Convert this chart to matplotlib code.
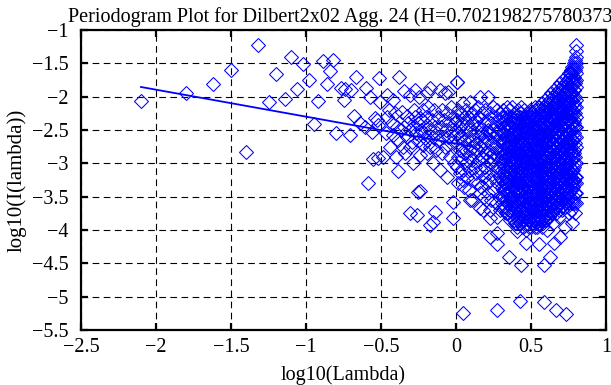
import numpy as np
import matplotlib
matplotlib.use("Agg")
import matplotlib.pyplot as plt

# ---- data: low-frequency periodogram points ----
low_x = [-2.10, -1.80, -1.62, -1.50, -1.40, -1.32, -1.25, -1.20, -1.14, -1.10,
         -1.06, -1.02, -0.98, -0.95, -0.92, -0.89, -0.86, -0.84, -0.82, -0.80,
         -0.77, -0.75, -0.74, -0.71, -0.70, -0.68, -0.67, -0.64, -0.61, -0.60,
         -0.59, -0.575, -0.558, -0.555, -0.54, -0.53, -0.517, -0.518, -0.511, -0.51,
         -0.49, -0.47, -0.462, -0.462, -0.45, -0.44, -0.429, -0.417, -0.417, -0.41,
         -0.40, -0.395, -0.39, -0.384, -0.377, -0.37, -0.362, -0.355, -0.35, -0.346,
         -0.34, -0.33, -0.329, -0.32, -0.31, -0.306, -0.306, -0.306, -0.295, -0.289,
         -0.285, -0.28, -0.273, -0.273, -0.265, -0.262, -0.255, -0.255, -0.25, -0.244,
         -0.24, -0.24, -0.24, -0.23, -0.225, -0.218, -0.218, -0.21, -0.206]
low_y = [-2.06, -1.94, -1.81, -1.60, -2.83, -1.23, -2.085, -1.665, -2.04, -1.40,
         -1.885, -1.51, -1.75, -2.41, -2.06, -1.46, -1.81, -1.61, -1.45, -2.55,
         -1.87, -2.05, -1.885, -2.575, -1.90, -2.285, -1.71, -2.40, -2.45, -1.87,
         -3.30, -2.00, -2.525, -2.94, -2.325, -2.35, -2.425, -2.925, -1.725, -2.075,
         -2.91, -2.55, -1.975, -2.30, -2.20, -2.75, -2.40, -2.05, -2.575, -2.25,
         -2.91, -2.45, -2.65, -3.11, -1.71, -2.50, -2.235, -2.75, -2.45, -1.915,
         -2.85, -2.60, -2.285, -2.40, -2.50, -1.975, -2.75, -3.74, -2.675, -2.99,
         -2.45, -2.20, -1.90, -2.30, -2.55, -3.775, -3.425, -2.40, -2.65, -2.00,
         -2.325, -2.87, -3.42, -2.50, -2.35, -2.20, -2.72, -2.55, -2.625]

# ---- data: middle band points (x, y pairs) ----
mid_x = [-0.20, -0.195, -0.195, -0.195, -0.19, -0.185, -0.175, -0.173, -0.173, -0.17,
         -0.16, -0.155, -0.151, -0.151, -0.145, -0.14, -0.14, -0.13, -0.125, -0.12,
         -0.11, -0.107, -0.107, -0.10, -0.095, -0.09, -0.085, -0.08, -0.073, -0.07,
         -0.065, -0.062, -0.06, -0.051, -0.05, -0.045, -0.04, -0.035, -0.03, -0.025,
         -0.022, -0.02, -0.018, -0.015, -0.01, -0.005, 0.004, 0.009, 0.049, 0.049,
         0.049, 0.093, 0.093, 0.104, 0.16, 0.16, 0.16, 0.182, 0.216, 0.226,
         0.226, 0.227, 0.271, 0.271, 0.271, 0.275, 0.338]
mid_y = [-2.30, -1.95, -2.425, -2.85, -2.65, -2.15, -2.50, -3.925, -1.875, -2.75,
         -2.35, -2.60, -3.00, -3.874, -2.20, -2.45, -3.724, -2.80, -2.55, -2.30,
         -2.65, -3.10, -1.90, -2.45, -2.85, -2.20, -2.60, -2.35, -1.95, -2.75,
         -2.50, -3.20, -2.25, -1.925, -2.60, -2.40, -2.90, -2.15, -2.70, -2.50,
         -3.824, -2.30, -3.574, -3.00, -2.60, -2.40, -1.785, -1.775, -2.10, -3.249,
         -5.25, -2.075, -3.549, -3.549, -2.00, -3.674, -3.449, -3.699, -2.00, -3.699,
         -4.099, -3.824, -3.799, -4.049, -5.20, -4.209, -2.15]

# ---- data: dense high-frequency band, one y-list per x column ----
dense_x = [0.005, 0.015, 0.025, 0.035, 0.045, 0.055, 0.065, 0.075, 0.085, 0.095,
           0.105, 0.115, 0.125, 0.135, 0.145, 0.155, 0.165, 0.175, 0.185, 0.195,
           0.205, 0.215, 0.225, 0.235, 0.245, 0.255, 0.265, 0.275, 0.285, 0.295,
           0.305, 0.315, 0.325, 0.335, 0.345, 0.355, 0.365, 0.375, 0.385, 0.395,
           0.405, 0.415, 0.425, 0.435, 0.445, 0.455, 0.465, 0.475, 0.485, 0.495,
           0.505, 0.515, 0.525, 0.535, 0.545, 0.555, 0.565, 0.575, 0.585, 0.595,
           0.605, 0.615, 0.625, 0.635, 0.645, 0.655, 0.665, 0.675, 0.685, 0.695,
           0.705, 0.715, 0.725, 0.735, 0.745, 0.755, 0.765, 0.775, 0.785, 0.795,
           0.800]
dense_y = [
    [-2.35, -2.7, -3.05], [-2.2, -2.55, -2.9, -3.3], [-2.45, -2.8, -3.15],
    [-2.25, -2.6, -2.95], [-2.4, -2.75, -3.1], [-2.3, -2.65, -2.85, -3.35],
    [-2.2, -2.5, -3.0], [-2.4, -2.7, -3.2], [-2.3, -2.6, -2.9, -3.4],
    [-2.5, -2.8, -3.1], [-2.25, -2.65, -2.95], [-2.4, -2.75, -3.25],
    [-2.2, -2.55, -2.85, -3.05], [-2.35, -2.7, -3.15], [-2.15, -2.45, -2.8, -3.3],
    [-2.3, -2.6, -2.95], [-2.5, -2.75, -3.1, -3.35], [-2.25, -2.55, -2.9],
    [-2.4, -2.7, -3.2, -3.5], [-2.2, -2.6, -2.85, -3.05],
    [-2.35, -2.65, -2.95, -3.3], [-2.5, -2.8, -3.15, -3.45],
    [-2.25, -2.55, -2.9, -3.25], [-2.4, -2.7, -3.0, -3.55],
    [-2.15, -2.5, -2.85, -3.2], [-2.3, -2.6, -2.95, -3.4],
    [-2.45, -2.75, -3.1, -3.6], [-2.2, -2.55, -2.9, -3.3],
    [-2.35, -2.65, -3.05, -3.5], [-2.25, -2.5, -2.8, -3.2, -3.7],
    [-2.3, -2.55, -2.8, -3.0, -3.25, -3.5],
    [-2.2, -2.45, -2.7, -2.95, -3.15, -3.4, -3.65],
    [-2.35, -2.6, -2.85, -3.1, -3.3, -3.55],
    [-2.25, -2.5, -2.75, -2.9, -3.2, -3.45, -3.75],
    [-2.4, -2.65, -2.8, -3.05, -3.35, -3.6],
    [-2.2, -2.45, -2.7, -2.95, -3.15, -3.4, -3.7, -4.4],
    [-2.3, -2.55, -2.8, -3.0, -3.25, -3.5, -3.8],
    [-2.15, -2.4, -2.65, -2.9, -3.1, -3.35, -3.6],
    [-2.35, -2.6, -2.75, -3.0, -3.2, -3.45, -3.7],
    [-2.25, -2.5, -2.7, -2.95, -3.15, -3.4, -3.65, -3.9],
    [-2.4, -2.6, -2.85, -3.05, -3.3, -3.55, -3.8, -4.02],
    [-2.2, -2.45, -2.65, -2.9, -3.1, -3.35, -3.6, -3.85],
    [-2.3, -2.55, -2.75, -3.0, -3.2, -3.45, -3.7, -5.07],
    [-2.15, -2.4, -2.6, -2.85, -3.05, -3.3, -3.55, -3.8, -4.52],
    [-2.35, -2.55, -2.8, -3.0, -3.25, -3.5, -3.75, -3.95],
    [-2.2, -2.45, -2.7, -2.9, -3.15, -3.4, -3.65, -3.85],
    [-2.3, -2.5, -2.75, -2.95, -3.2, -3.45, -3.7, -4.2],
    [-2.25, -2.45, -2.65, -2.9, -3.1, -3.35, -3.6, -3.9],
    [-2.35, -2.55, -2.8, -3.0, -3.25, -3.5, -3.75, -3.95],
    [-2.2, -2.4, -2.6, -2.85, -3.05, -3.3, -3.55, -3.8],
    [-2.3, -2.5, -2.7, -2.95, -3.15, -3.4, -3.65, -3.9],
    [-2.25, -2.45, -2.65, -2.9, -3.1, -3.35, -3.6, -3.85],
    [-2.15, -2.4, -2.6, -2.8, -3.05, -3.25, -3.5, -3.75, -3.95],
    [-2.3, -2.5, -2.75, -2.95, -3.2, -3.45, -3.7, -3.9],
    [-2.2, -2.45, -2.65, -2.85, -3.1, -3.3, -3.55, -3.8],
    [-2.15, -2.35, -2.6, -2.8, -3.0, -3.25, -3.5, -3.7, -3.9, -4.21],
    [-2.25, -2.45, -2.7, -2.9, -3.15, -3.35, -3.6, -3.85],
    [-2.1, -2.3, -2.55, -2.75, -2.95, -3.2, -3.45, -3.65, -3.95],
    [-2.2, -2.4, -2.65, -2.85, -3.1, -3.3, -3.55, -3.8, -4.52, -5.08],
    [-2.05, -2.3, -2.5, -2.7, -2.95, -3.15, -3.4, -3.6, -3.85],
    [-2.15, -2.35, -2.6, -2.8, -3.05, -3.25, -3.5, -3.75, -4.0],
    [-2.0, -2.25, -2.45, -2.7, -2.9, -3.1, -3.35, -3.55, -3.8],
    [-2.1, -2.3, -2.55, -2.75, -3.0, -3.2, -3.45, -3.65, -4.4],
    [-1.95, -2.2, -2.4, -2.65, -2.85, -3.05, -3.3, -3.5, -3.75],
    [-2.05, -2.3, -2.5, -2.7, -2.95, -3.15, -3.4, -3.6, -3.9],
    [-1.9, -2.15, -2.35, -2.6, -2.8, -3.0, -3.25, -3.45, -3.7, -4.2],
    [-2.0, -2.25, -2.45, -2.65, -2.9, -3.1, -3.35, -3.55, -5.2],
    [-1.85, -2.1, -2.3, -2.55, -2.75, -2.95, -3.2, -3.4, -3.65],
    [-1.95, -2.2, -2.4, -2.6, -2.85, -3.05, -3.3, -3.5, -3.8],
    [-1.8, -2.05, -2.25, -2.5, -2.7, -2.9, -3.15, -3.35, -3.6, -4.1],
    [-1.9, -2.15, -2.35, -2.55, -2.8, -3.0, -3.25, -3.45, -3.7],
    [-1.75, -2.0, -2.2, -2.45, -2.65, -2.85, -3.1, -3.3, -3.55],
    [-1.85, -2.1, -2.3, -2.5, -2.75, -2.95, -3.2, -3.4, -3.65, -3.95],
    [-1.7, -1.95, -2.15, -2.4, -2.6, -2.8, -3.05, -3.25, -3.5, -5.26],
    [-1.8, -2.05, -2.25, -2.45, -2.7, -2.9, -3.15, -3.35, -3.6],
    [-1.65, -1.9, -2.1, -2.35, -2.55, -2.75, -3.0, -3.2, -3.45, -3.75],
    [-1.6, -1.85, -2.0, -2.25, -2.5, -2.7, -2.95, -3.15, -3.4],
    [-1.55, -1.75, -1.95, -2.2, -2.4, -2.65, -2.85, -3.1, -3.3, -3.6, -3.9],
    [-1.5, -1.7, -1.9, -2.1, -2.35, -2.55, -2.8, -3.0, -3.25, -3.5],
    [-1.45, -1.6, -1.8, -2.0, -2.25, -2.45, -2.7, -2.9, -3.2, -3.45, -3.75],
    [-1.23, -1.4, -1.55, -1.75, -2.05, -2.3, -2.6, -3.3, -3.45],
]

# ---- data: second interleaved set of high-frequency columns ----
dense2_x = [0.31, 0.32, 0.33, 0.34, 0.35, 0.36, 0.37, 0.38, 0.39, 0.40,
            0.41, 0.42, 0.43, 0.44, 0.45, 0.46, 0.47, 0.48, 0.49, 0.50,
            0.51, 0.52, 0.53, 0.54, 0.55, 0.56, 0.57, 0.58, 0.59, 0.60,
            0.61, 0.62, 0.63, 0.64, 0.65, 0.66, 0.67, 0.68, 0.69, 0.70,
            0.71, 0.72, 0.73, 0.74, 0.75, 0.76, 0.77, 0.78, 0.79, 0.80]
dense2_y = [
    [-2.4, -2.65, -2.9, -3.1, -3.35, -3.6],
    [-2.3, -2.55, -2.8, -3.05, -3.3, -3.5],
    [-2.45, -2.7, -2.95, -3.2, -3.4, -3.65],
    [-2.3, -2.6, -2.85, -3.1, -3.3, -3.55],
    [-2.5, -2.75, -2.9, -3.2, -3.45, -3.75],
    [-2.35, -2.6, -2.85, -3.05, -3.3, -3.55, -3.85],
    [-2.45, -2.7, -2.95, -3.15, -3.4, -3.65],
    [-2.3, -2.55, -2.8, -3.0, -3.25, -3.5, -3.75],
    [-2.4, -2.65, -2.9, -3.1, -3.35, -3.6, -3.85],
    [-2.3, -2.5, -2.75, -2.95, -3.2, -3.4, -3.65, -3.9],
    [-2.35, -2.55, -2.8, -3.0, -3.25, -3.45, -3.7, -3.95],
    [-2.4, -2.65, -2.85, -3.1, -3.3, -3.55, -3.8],
    [-2.25, -2.5, -2.7, -2.95, -3.15, -3.4, -3.65, -3.9],
    [-2.45, -2.65, -2.9, -3.1, -3.35, -3.6, -3.85],
    [-2.3, -2.55, -2.8, -3.0, -3.25, -3.5, -3.75, -3.95],
    [-2.4, -2.6, -2.85, -3.05, -3.3, -3.55, -3.8],
    [-2.35, -2.55, -2.8, -3.0, -3.25, -3.5, -3.75, -4.0],
    [-2.3, -2.5, -2.7, -2.95, -3.15, -3.4, -3.65, -3.85],
    [-2.4, -2.6, -2.9, -3.1, -3.35, -3.6, -3.85],
    [-2.25, -2.45, -2.65, -2.85, -3.05, -3.25, -3.45, -3.7, -3.95],
    [-2.35, -2.55, -2.8, -3.0, -3.2, -3.45, -3.7, -3.9],
    [-2.3, -2.5, -2.75, -2.95, -3.15, -3.4, -3.6, -3.85],
    [-2.2, -2.45, -2.7, -2.9, -3.1, -3.35, -3.6, -3.8],
    [-2.35, -2.55, -2.8, -3.0, -3.25, -3.45, -3.7, -3.95],
    [-2.25, -2.5, -2.75, -2.95, -3.2, -3.4, -3.65, -3.85],
    [-2.3, -2.55, -2.75, -2.95, -3.15, -3.4, -3.6, -3.8],
    [-2.2, -2.4, -2.6, -2.85, -3.05, -3.3, -3.55, -3.75],
    [-2.25, -2.5, -2.7, -2.95, -3.2, -3.4, -3.65, -3.9],
    [-2.15, -2.4, -2.6, -2.8, -3.05, -3.25, -3.5, -3.7],
    [-2.25, -2.45, -2.7, -2.9, -3.15, -3.35, -3.6, -3.85],
    [-2.1, -2.35, -2.55, -2.8, -3.0, -3.2, -3.45, -3.7],
    [-2.2, -2.4, -2.65, -2.85, -3.1, -3.3, -3.55, -3.8],
    [-2.05, -2.3, -2.5, -2.75, -2.95, -3.15, -3.4, -3.6],
    [-2.15, -2.35, -2.6, -2.8, -3.05, -3.25, -3.5, -3.75],
    [-2.0, -2.25, -2.45, -2.7, -2.9, -3.1, -3.35, -3.55],
    [-2.1, -2.3, -2.55, -2.75, -3.0, -3.2, -3.45, -3.65],
    [-1.95, -2.2, -2.4, -2.65, -2.85, -3.05, -3.3, -3.5, -3.75],
    [-2.05, -2.25, -2.5, -2.7, -2.95, -3.15, -3.4, -3.6],
    [-1.9, -2.15, -2.35, -2.6, -2.8, -3.0, -3.25, -3.45, -3.7],
    [-2.0, -2.2, -2.45, -2.65, -2.9, -3.1, -3.35, -3.55],
    [-1.85, -2.1, -2.3, -2.55, -2.75, -2.95, -3.2, -3.4, -3.65],
    [-1.95, -2.15, -2.4, -2.6, -2.85, -3.05, -3.3, -3.5],
    [-1.8, -2.05, -2.25, -2.5, -2.7, -2.9, -3.15, -3.35, -3.6],
    [-1.9, -2.1, -2.35, -2.55, -2.8, -3.0, -3.25, -3.45],
    [-1.75, -2.0, -2.2, -2.45, -2.65, -2.85, -3.1, -3.3, -3.55],
    [-1.7, -1.95, -2.15, -2.35, -2.6, -2.8, -3.05, -3.25, -3.5],
    [-1.65, -1.85, -2.05, -2.3, -2.5, -2.75, -2.95, -3.2, -3.4, -3.7],
    [-1.6, -1.8, -2.0, -2.25, -2.45, -2.65, -2.9, -3.1, -3.35, -3.55],
    [-1.55, -1.75, -1.9, -2.15, -2.4, -2.6, -2.85, -3.05, -3.3, -3.6],
    [-1.32, -1.5, -1.65, -1.85, -2.15, -2.45, -2.75, -3.0, -3.2, -3.6],
]

# ---- data: least-squares fit line endpoints ----
fit_x = [-2.10, 0.10]
fit_y = [-1.855, -2.745]

title_text = "Periodogram Plot for Dilbert2x02 Agg. 24 (H=0.702198275780373)"
x_ticks = [-2.5, -2, -1.5, -1, -0.5, 0, 0.5, 1]
y_ticks = [-5.5, -5, -4.5, -4, -3.5, -3, -2.5, -2, -1.5, -1]

# ---- plotting ----
plt.rcParams['font.family'] = ['Liberation Serif', 'DejaVu Serif']
plt.rcParams['axes.unicode_minus'] = True

fig = plt.figure(figsize=(6.11, 3.85), dpi=100)
ax = fig.add_axes([0.1326, 0.1429, 0.8592, 0.7792])

d1x = np.repeat(dense_x, [len(c) for c in dense_y])
d1y = np.concatenate([np.array(c, dtype=float) for c in dense_y])
d2x = np.repeat(dense2_x, [len(c) for c in dense2_y])
d2y = np.concatenate([np.array(c, dtype=float) for c in dense2_y])
all_x = np.concatenate([low_x, mid_x, d1x, d2x])
all_y = np.concatenate([low_y, mid_y, d1y, d2y])

ax.plot(all_x, all_y, linestyle='none', marker='D', markersize=7.2,
        markerfacecolor='none', markeredgecolor='#0000ff',
        markeredgewidth=0.75, zorder=3)
ax.plot(fit_x, fit_y, color='#0000ff', linewidth=1.3, zorder=4)

ax.set_xlim(-2.5, 1)
ax.set_ylim(-5.5, -1)
ax.set_xticks(x_ticks)
ax.set_yticks(y_ticks)
ax.set_xticklabels([f"{t:g}".replace('-', '\u2212') for t in x_ticks])
ax.set_yticklabels([f"{t:g}".replace('-', '\u2212') for t in y_ticks])
ax.grid(True, color='black', linestyle=(0, (6, 4)), linewidth=0.8, zorder=1)
ax.set_axisbelow(True)
for s in ax.spines.values():
    s.set_linewidth(1.6)
ax.tick_params(direction='in', length=5, width=1.6, top=True, right=True,
               labelsize=14.5)
ax.tick_params(axis='x', pad=6)
ax.tick_params(axis='y', pad=9)

ax.set_title(title_text, fontsize=14.5, pad=6)
ax.set_xlabel("log10(Lambda)", fontsize=14.5, labelpad=6)
ax.set_ylabel("log10(I(lambda))", fontsize=15, labelpad=4)

fig.savefig("out.png", dpi=100)
